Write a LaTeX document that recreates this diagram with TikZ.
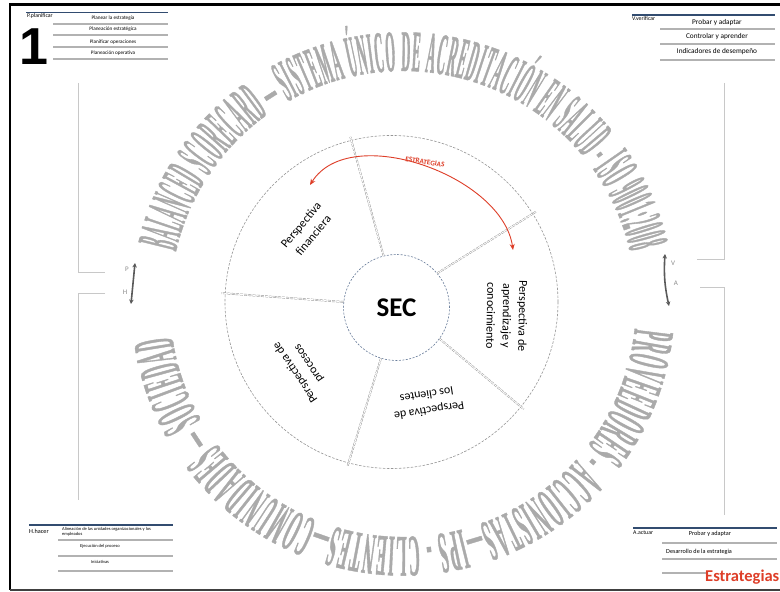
\documentclass[tikz,border=0pt]{standalone}
\usepackage{fontspec}
\setmainfont{Carlito}
\newfontfamily\arcA[FakeStretch=0.21,FakeBold=0.6]{Liberation Serif}
\newfontfamily\arcB[FakeStretch=0.26,FakeBold=0.6]{Liberation Serif}
\newfontfamily\onefont{Liberation Sans}
\usetikzlibrary{decorations.text,arrows.meta,calc}
\definecolor{arcgray}{RGB}{170,170,170}
\definecolor{tblblue}{RGB}{50,76,112}
\definecolor{tblgray}{RGB}{178,178,178}
\definecolor{brk}{RGB}{200,200,200}
\definecolor{ringgray}{RGB}{150,150,150}
\definecolor{secblue}{RGB}{105,125,155}
\definecolor{stratred}{RGB}{222,62,40}
\definecolor{arrgray}{RGB}{90,90,90}
\definecolor{lblgray}{RGB}{140,140,140}
\begin{document}
\begin{tikzpicture}[x=1pt,y=1pt,
  bluerule/.style={draw=tblblue,line width=1.6pt},
  grayrule/.style={draw=tblgray,line width=1.3pt},
  sidelbl/.style={inner sep=0pt,anchor=west,font=\fontsize{5.8}{6}\selectfont},
  rowTL/.style={inner sep=0pt,font=\fontsize{5.2}{6}\selectfont},
  rowTR/.style={inner sep=0pt,font=\fontsize{7.3}{8}\selectfont},
  rowBL/.style={inner sep=0pt,font=\fontsize{4.5}{4.7}\selectfont},
  rowBR/.style={inner sep=0pt,font=\fontsize{6.2}{7}\selectfont},
  persp/.style={inner sep=0pt,align=center,font=\fontsize{12}{16}\selectfont},
  divider/.style={draw=gray!85,line width=0.45pt,double=white,double distance=0.9pt,dash pattern=on 3pt off 1.2pt},
  bracket/.style={draw=brk,line width=1pt},
  cyclearrow/.style={draw=arrgray,line width=1.6pt,{Stealth[length=4.5pt,width=4.5pt]}-{Stealth[length=4.5pt,width=4.5pt]}},
  cyclelbl/.style={inner sep=0pt,text=lblgray,font=\fontsize{7}{8}\selectfont}
]
\useasboundingbox (0,0) rectangle (780,592);
\fill[white] (0,0) rectangle (780,592);

% frame
\draw[line width=3pt] (9,587) -- (780,587);
\draw[line width=1.2pt] (10,588) -- (10,2);
\draw[line width=1.5pt,draw=black!75] (10,2) -- (780,2);

% circular text
\coordinate (tc) at (403,288);
\path[decorate,decoration={text along path,text align={fit to path},text color=arcgray,
  text={|\arcA\bfseries\fontsize{59}{59}\selectfont|BALANCED SCORECARD — SISTEMA ÚNICO DE ACREDITACIÓN EN SALUD - ISO 9001:2008}}]
  (tc) ++(167:233) arc[start angle=167,end angle=13,radius=233];
\path[decorate,decoration={text along path,text align={fit to path},text color=arcgray,
  text={|\arcB\bfseries\fontsize{59}{59}\selectfont|PROVEEDORES - ACCIONISTAS—IPS - CLIENTES—COMUNIDADES — SOCIEDAD}}]
  (tc) ++(-6:233) arc[start angle=-6,end angle=-172,radius=233];

% circles
\node[circle,draw=ringgray,line width=0.6pt,dash pattern=on 2.5pt off 1.5pt,minimum size=333pt,inner sep=0pt] (ring) at (391.5,290) {};
\node[circle,draw=secblue,line width=0.6pt,dash pattern=on 2pt off 1.5pt,minimum size=106pt,inner sep=0pt,
  font=\bfseries\fontsize{27}{27}\selectfont] (sec) at (396.5,284.5) {SEC};

% dividers
\foreach \i/\o in {104/104,40/32,174/177,-36/-39,-107/-105}
  \draw[divider] (sec.\i) -- ($(ring.center)!1.02!(ring.\o)$);

% perspective labels
\node[persp,rotate=50] (pfin) at (307,362) {Perspectiva\\financiera};
\node[persp,rotate=-91] (papr) at (507,276) {Perspectiva de\\aprendizaje y\\conocimiento};
\node[persp,rotate=189] (pcli) at (428,189) {Perspectiva de\\los clientes};
\node[persp,rotate=124] (ppro) at (302,224) {Perspectiva de\\procesos};

% strategies arrow
\coordinate (sL) at (310,407);
\coordinate (sR) at (513,342);
\draw[draw=stratred,line width=0.9pt,{Stealth[length=6pt,width=5pt]}-{Stealth[length=6pt,width=5pt]}]
  (sL) to[out=58,in=98,looseness=0.9] (sR);
\node[inner sep=0pt,text=stratred,rotate=-9,font=\bfseries\fontsize{7.2}{8}\selectfont] (strat) at (425,430) {ESTRATEGIAS};

% side brackets
\coordinate (lb1) at (78,509); \coordinate (lb2) at (78,319); \coordinate (lb3) at (105,319);
\coordinate (lb4) at (105,298); \coordinate (lb5) at (78,298); \coordinate (lb6) at (78,92);
\draw[bracket] (lb1) -- (lb2) -- (lb3);
\draw[bracket] (lb4) -- (lb5) -- (lb6);
\coordinate (rb1) at (724,509); \coordinate (rb2) at (724,332); \coordinate (rb3) at (697,332);
\coordinate (rb4) at (700,304); \coordinate (rb5) at (724,304); \coordinate (rb6) at (724,77);
\draw[bracket] (rb1) -- (rb2) -- (rb3);
\draw[bracket] (rb4) -- (rb5) -- (rb6);

% cycle arrows
\coordinate (ph1) at (135,329); \coordinate (ph2) at (131,288);
\draw[cyclearrow] (ph1) -- (ph2);
\node[cyclelbl] (pl) at (127,323) {P};
\node[cyclelbl] (hl) at (125,300) {H};
\coordinate (va1) at (665,338); \coordinate (va2) at (669,286);
\draw[cyclearrow] (va1) to[bend right=8] (va2);
\node[cyclelbl] (vl) at (673,329) {V};
\node[cyclelbl] (al) at (676,309) {A};

% big 1
\node[inner sep=0pt,font=\onefont\bfseries\fontsize{52}{52}\selectfont] (one) at (33.5,545.5) {1};

% top-left table
\draw[bluerule] (26,579.5) -- (168,579.5);
\node[sidelbl] (tlh) at (27,576) {P.planificar};
\node[rowTL] (tl1) at (113,574) {Planear la estrategia};
\draw[grayrule] (53,568) -- (168,568);
\node[rowTL] (tl2) at (113,563) {Planeación estratégica};
\draw[grayrule] (53,557) -- (168,557);
\node[rowTL] (tl3) at (113,550) {Planificar operaciones};
\draw[grayrule] (53,545) -- (168,545);
\node[rowTL] (tl4) at (113,539) {Planeación operativa};
\draw[grayrule] (53,533) -- (168,533);

% top-right table
\draw[bluerule] (632,577) -- (775,577);
\node[sidelbl] (trh) at (632,573) {V.verificar};
\node[rowTR] (tr1) at (717,569) {Probar y adaptar};
\draw[grayrule] (660,563) -- (775,563);
\node[rowTR] (tr2) at (717,555) {Controlar y aprender};
\draw[grayrule] (660,548) -- (775,548);
\node[rowTR] (tr3) at (717,540) {Indicadores de desempeño};
\draw[grayrule] (660,532) -- (775,532);

% bottom-left table
\draw[bluerule] (29,67) -- (173,67);
\node[sidelbl,font=\fontsize{6.2}{7}\selectfont] (blh) at (29,61) {H.hacer};
\node[rowBL,anchor=north west,align=left] (bl1) at (62,64.5) {Alineación de las unidades organizacionales y los\\empleados};
\draw[grayrule] (58,52) -- (173,52);
\node[rowBL] (bl2) at (100,46) {Ejecución del proceso};
\draw[grayrule] (58,36) -- (173,36);
\node[rowBL] (bl3) at (100,30) {Iniciativas};
\draw[grayrule] (58,21) -- (173,21);

% bottom-right table
\draw[bluerule] (633,64) -- (777,64);
\node[sidelbl] (brh) at (633,59) {A.actuar};
\node[rowBR] (br1) at (710,58) {Probar y adaptar};
\draw[grayrule] (662,49) -- (777,49);
\node[rowBR,anchor=west] (br2) at (666,40) {Desarrollo de la estrategia};
\draw[grayrule] (662,33) -- (777,33);
\draw[grayrule] (662,19) -- (707,19);
\node[inner sep=0pt,anchor=base west,text=stratred,font=\bfseries\fontsize{16.5}{18}\selectfont] (estr) at (705,10) {Estrategias};
\end{tikzpicture}
\end{document}
